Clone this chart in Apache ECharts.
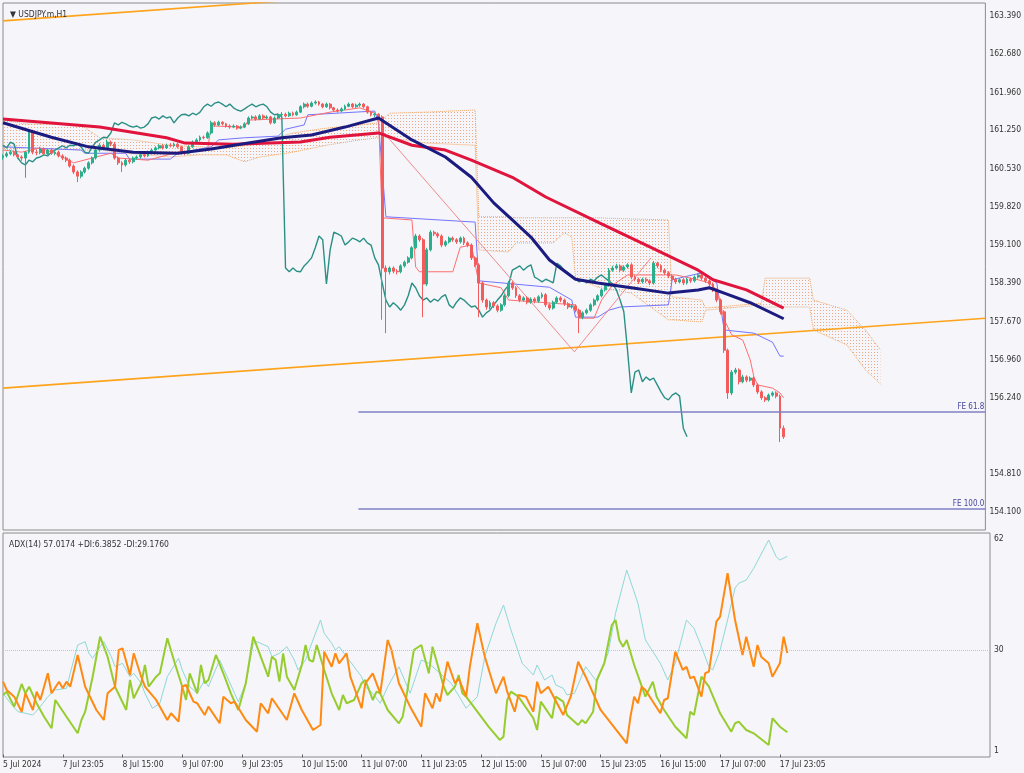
<!DOCTYPE html>
<html><head><meta charset="utf-8">
<script src="https://cdn.jsdelivr.net/npm/echarts/dist/echarts.min.js"></script>
<style>html,body{margin:0;padding:0;background:#f5f5fa}#c{width:1024px;height:773px}</style>
</head><body><div id="c"></div>
<script>
// ---------- DATA ----------
const xTickBars = [0,16,32,48,64,80,96,112,128,144,160,176,192,208];
const xLabels = ['5 Jul 2024','7 Jul 23:05','8 Jul 15:00','9 Jul 07:00','9 Jul 23:05','10 Jul 15:00','11 Jul 07:00','11 Jul 23:05','12 Jul 15:00','15 Jul 07:00','15 Jul 23:05','16 Jul 15:00','17 Jul 07:00','17 Jul 23:05'];
const priceTicks = [154.100,154.810,156.240,156.960,157.670,158.390,159.100,159.820,160.530,161.250,161.960,162.680,163.390];
const adxTicks = [1,30,62];
const lastPrice = 155.508;

// hourly candles: [open, close, low, high]
const ohlc = [
[160.74,160.77,160.70,160.80],[160.77,160.81,160.74,160.85],[160.81,160.84,160.78,160.88],[160.84,160.79,160.76,160.87],[160.79,160.75,160.71,160.81],
[160.75,160.73,160.68,160.78],[160.73,160.84,160.36,160.86],[160.84,161.22,160.81,161.25],[161.22,160.84,160.80,161.26],[160.84,160.83,160.78,160.89],
[160.83,160.90,160.80,160.94],[160.90,160.81,160.78,160.93],[160.81,160.88,160.77,160.91],[160.88,160.82,160.79,160.92],[160.82,160.84,160.78,160.88],
[160.84,160.77,160.74,160.87],[160.77,160.73,160.69,160.80],[160.73,160.69,160.65,160.76],[160.69,160.58,160.55,160.72],[160.58,160.47,160.43,160.61],
[160.47,160.39,160.28,160.50],[160.39,160.47,160.35,160.50],[160.47,160.54,160.44,160.57],[160.54,160.64,160.51,160.67],[160.64,160.73,160.61,160.76],
[160.73,160.88,160.70,160.91],[160.88,160.97,160.85,161.01],[160.97,160.92,160.89,161.00],[160.92,161.03,160.89,161.07],[161.03,160.99,160.95,161.06],
[160.99,160.73,160.70,161.03],[160.73,160.64,160.60,160.76],[160.64,160.60,160.47,160.67],[160.60,160.69,160.57,160.72],[160.69,160.66,160.62,160.73],
[160.66,160.73,160.63,160.76],[160.73,160.75,160.70,160.78],[160.75,160.79,160.72,160.82],[160.79,160.77,160.74,160.82],[160.77,160.84,160.75,160.87],
[160.84,160.88,160.81,160.91],[160.88,160.92,160.85,160.95],[160.92,160.96,160.89,160.99],[160.96,160.92,160.89,160.99],[160.92,160.97,160.90,161.00],
[160.97,160.96,160.93,161.01],[160.96,160.99,160.93,161.02],[160.99,160.94,160.91,161.02],[160.94,160.84,160.80,160.96],[160.84,160.82,160.78,160.87],
[160.82,160.94,160.80,160.97],[160.94,161.03,160.92,161.06],[161.03,161.07,161.00,161.10],[161.07,161.12,161.04,161.15],[161.12,161.11,161.08,161.15],
[161.11,161.20,161.09,161.23],[161.20,161.39,161.17,161.43],[161.39,161.35,161.32,161.42],[161.35,161.40,161.33,161.43],[161.40,161.37,161.34,161.42],
[161.37,161.33,161.30,161.39],[161.33,161.31,161.28,161.36],[161.31,161.33,161.29,161.36],[161.33,161.29,161.26,161.35],[161.29,161.31,161.27,161.34],
[161.31,161.37,161.29,161.40],[161.37,161.48,161.35,161.51],[161.48,161.50,161.45,161.53],[161.50,161.46,161.43,161.53],[161.46,161.52,161.44,161.55],
[161.52,161.48,161.45,161.55],[161.48,161.50,161.46,161.53],[161.50,161.39,161.36,161.52],[161.39,161.48,161.37,161.51],[161.48,161.54,161.46,161.57],
[161.54,161.55,161.51,161.59],[161.55,161.52,161.49,161.58],[161.52,161.57,161.50,161.60],[161.57,161.54,161.51,161.60],[161.54,161.59,161.52,161.62],
[161.59,161.69,161.57,161.72],[161.69,161.74,161.66,161.77],[161.74,161.70,161.67,161.77],[161.70,161.76,161.68,161.79],[161.76,161.78,161.73,161.81],
[161.78,161.74,161.71,161.80],[161.74,161.69,161.66,161.76],[161.69,161.74,161.67,161.77],[161.74,161.67,161.64,161.76],[161.67,161.63,161.60,161.69],
[161.63,161.61,161.58,161.66],[161.61,161.65,161.59,161.68],[161.65,161.70,161.63,161.73],[161.70,161.74,161.68,161.77],[161.74,161.69,161.66,161.76],
[161.69,161.72,161.67,161.75],[161.72,161.74,161.69,161.77],[161.74,161.69,161.66,161.76],[161.69,161.59,161.56,161.71],[161.59,161.54,161.51,161.61],
[161.54,161.55,161.50,161.58],[161.55,161.50,161.46,161.57],[161.50,158.67,157.70,161.53],[158.67,158.60,157.45,158.72],[158.60,158.67,158.55,158.70],
[158.67,158.61,158.57,158.70],[158.61,158.60,158.55,158.65],[158.60,158.71,158.57,158.74],[158.71,158.78,158.68,158.81],[158.78,158.86,158.75,158.89],
[158.86,159.05,158.83,159.08],[159.05,159.27,159.02,159.31],[159.27,159.20,159.16,159.30],[159.20,158.37,157.75,159.23],[158.37,159.01,158.33,159.05],
[159.01,159.34,158.98,159.38],[159.34,159.31,159.27,159.37],[159.31,159.27,159.23,159.34],[159.27,159.10,159.06,159.30],[159.10,159.16,159.07,159.19],
[159.16,159.23,159.13,159.26],[159.23,159.20,159.16,159.26],[159.20,159.16,159.12,159.23],[159.16,159.23,159.13,159.26],[159.23,159.14,159.10,159.26],
[159.14,159.10,159.06,159.17],[159.10,158.86,158.82,159.13],[158.86,158.73,158.69,158.89],[158.73,158.39,157.75,158.76],[158.39,158.07,158.02,158.42],
[158.07,157.94,157.89,158.10],[157.94,158.02,157.90,158.06],[158.02,157.96,157.92,158.05],[157.96,157.88,157.84,157.99],[157.88,157.98,157.85,158.01],
[157.98,158.15,157.95,158.18],[158.15,158.39,158.12,158.43],[158.39,158.30,158.26,158.42],[158.30,158.15,158.11,158.33],[158.15,158.07,158.03,158.18],
[158.07,158.11,158.04,158.14],[158.11,158.03,157.99,158.14],[158.03,158.09,158.00,158.12],[158.09,158.05,158.01,158.12],[158.05,158.13,158.02,158.16],
[158.13,158.17,158.10,158.21],[158.17,157.98,157.94,158.20],[157.98,157.92,157.88,158.01],[157.92,158.03,157.89,158.06],[158.03,158.11,158.00,158.14],
[158.11,158.07,158.03,158.14],[158.07,158.00,157.96,158.10],[158.00,157.94,157.90,158.03],[157.94,157.96,157.91,157.99],[157.96,157.88,157.84,157.99],
[157.88,157.75,157.45,157.91],[157.75,157.83,157.71,157.86],[157.83,157.88,157.80,157.91],[157.88,157.98,157.85,158.01],[157.98,158.07,157.95,158.10],
[158.07,158.15,158.04,158.18],[158.15,158.26,158.12,158.29],[158.26,158.35,158.23,158.38],[158.35,158.63,158.32,158.67],[158.63,158.67,158.60,158.71],
[158.67,158.71,158.64,158.75],[158.71,158.63,158.59,158.74],[158.63,158.69,158.60,158.72],[158.69,158.73,158.66,158.76],[158.73,158.50,158.46,158.76],
[158.50,158.46,158.42,158.53],[158.46,158.41,158.37,158.49],[158.41,158.46,158.38,158.49],[158.46,158.43,158.39,158.49],[158.43,158.39,158.35,158.46],
[158.39,158.76,158.36,158.80],[158.76,158.71,158.67,158.79],[158.71,158.63,158.59,158.74],[158.63,158.58,158.54,158.66],[158.58,158.52,158.48,158.61],
[158.52,158.46,158.42,158.55],[158.46,158.41,158.37,158.49],[158.41,158.45,158.38,158.48],[158.45,158.39,158.35,158.48],[158.39,158.46,158.36,158.49],
[158.46,158.43,158.39,158.49],[158.43,158.50,158.40,158.53],[158.50,158.54,158.47,158.57],[158.54,158.48,158.44,158.57],[158.48,158.43,158.39,158.51],
[158.43,158.37,158.33,158.46],[158.37,158.26,158.22,158.40],[158.26,158.07,158.03,158.29],[158.07,157.85,157.80,158.10],[157.85,157.13,157.08,157.88],
[157.13,156.33,156.22,157.16],[156.33,156.72,156.29,156.76],[156.72,156.76,156.68,156.80],[156.76,156.54,156.49,156.79],[156.54,156.63,156.51,156.67],
[156.63,156.57,156.53,156.66],[156.57,156.61,156.54,156.64],[156.61,156.48,156.44,156.64],[156.48,156.35,156.31,156.51],[156.35,156.24,156.20,156.38],
[156.24,156.20,156.16,156.27],[156.20,156.29,156.17,156.32],[156.29,156.33,156.26,156.36],[156.33,156.27,156.23,156.36],[156.27,155.67,155.41,156.30],
[155.67,155.508,155.47,155.72]
];

// Ichimoku lines (vertices: [bar, price])
const tenkanPts = [[0,160.88],[5,160.84],[10,160.92],[14,160.82],[19,160.64],[24,160.73],[29,160.82],[31,160.73],[39,160.69],[47,160.84],[55,160.88],[56,161.33],[65,161.31],[66,161.44],[80,161.48],[88,161.59],[96,161.67],[100,161.57],[101,161.52],[102,159.61],[110,159.57],[111,158.69],[112,158.60],[121,158.60],[123,159.06],[126,159.10],[128,158.39],[134,158.30],[136,158.07],[154,157.98],[155,157.73],[159,157.73],[161,158.07],[164,158.35],[168,158.54],[181,158.54],[187,158.45],[190,158.39],[192,158.26],[194,157.70],[196,157.42],[199,157.32],[201,156.95],[202,156.63],[203,156.48],[207,156.42],[209,156.33],[210,156.24]];
const kijunPts = [[0,160.94],[21,160.88],[22,160.82],[33,160.82],[34,160.71],[45,160.71],[47,160.82],[56,160.94],[58,161.07],[65,161.11],[74,161.14],[76,161.27],[81,161.35],[82,161.54],[100,161.61],[101,161.39],[103,159.63],[127,159.53],[128,158.43],[147,158.31],[153,158.07],[154,157.75],[160,157.75],[163,157.88],[166,157.94],[179,157.98],[180,158.45],[183,158.50],[188,158.58],[192,158.39],[194,157.51],[202,157.45],[207,157.28],[209,157.02],[210,157.02]];
const cloudBars  = [0,6,21,26,35,45,53,60,65,69,78,87,96,101,104,114,127,128,136,138,148,151,153,154,160,169,179,180,188,189,204,205,217,218,227,232,236];
const cloudUpper = [161.44,161.37,161.35,161.11,161.07,160.97,160.94,160.92,160.96,161.03,161.20,161.29,161.35,161.39,161.57,161.59,161.63,159.63,159.63,159.61,159.61,159.61,159.61,159.61,159.61,159.59,159.57,158.13,158.07,157.92,158.01,158.48,158.48,158.07,157.88,157.51,157.14];
const cloudLower = [160.88,160.92,160.88,160.88,160.81,160.75,160.79,160.79,160.66,160.75,160.84,160.97,161.07,161.11,161.11,161.01,160.97,159.01,158.97,159.14,159.14,159.33,159.25,158.50,158.31,158.20,157.70,157.70,157.66,157.88,157.98,157.94,157.94,157.51,157.23,156.76,156.50];

// moving averages (vertices)
const maNavyPts = [[0,161.39],[13,161.12],[23,160.94],[35,160.84],[47,160.82],[56,160.90],[66,161.01],[75,161.11],[83,161.16],[92,161.31],[101,161.48],[110,161.07],[119,160.75],[126,160.37],[132,159.89],[137,159.57],[142,159.25],[147,158.82],[154,158.46],[160,158.39],[169,158.30],[179,158.20],[187,158.26],[190,158.30],[194,158.20],[201,158.02],[210,157.72]];
const maRedPts = [[0,161.46],[26,161.31],[44,161.11],[49,161.01],[62,160.99],[80,161.03],[88,161.12],[101,161.20],[110,160.97],[119,160.88],[126,160.69],[137,160.37],[146,160.00],[160,159.53],[173,159.10],[187,158.63],[191,158.45],[200,158.26],[210,157.92]];

// drawn objects
const trendLow  = [[0,156.42],[264.26,157.73]];
const trendHigh = [[0,163.30],[264.26,164.61]];
const fibPts = [[102.5,161.20],[153.7,157.10],[174.3,158.86]];
const feStartBar = 95.6;
const feNames  = ['FE 61.8','FE 100.0'];
const feLevels = [155.97, 154.16];

// ADX(14)
const adxPts = [[0,17.60],[2,14.73],[4,12.31],[6,11.85],[8,11.36],[10,13.75],[12,16.63],[14,18.55],[17,19.04],[18,23.36],[20,31.50],[22,32.45],[23,29.11],[24,27.68],[26,31.01],[27,32.45],[29,28.14],[30,25.26],[32,26.24],[34,22.38],[35,23.36],[37,20.48],[38,17.60],[40,13.29],[42,14.73],[44,22.38],[47,27.68],[48,24.31],[50,19.50],[52,17.60],[54,21.43],[55,19.50],[58,27.19],[60,22.38],[62,17.60],[63,15.19],[65,20.48],[67,31.99],[68,32.45],[71,31.01],[72,28.14],[74,29.11],[76,31.01],[78,27.19],[79,24.31],[81,27.19],[83,32.94],[85,38.70],[86,34.87],[88,31.99],[89,30.06],[90,31.01],[92,28.14],[94,25.26],[96,22.38],[97,19.50],[99,17.60],[101,14.73],[103,19.50],[106,25.26],[109,17.60],[112,27.19],[114,26.24],[117,23.36],[120,20.48],[124,13.29],[127,16.63],[129,28.14],[132,37.75],[134,43.01],[136,35.82],[139,26.24],[142,22.87],[143,25.75],[145,21.43],[147,22.87],[148,19.99],[150,19.04],[151,17.12],[153,17.60],[156,25.26],[159,20.94],[162,29.11],[164,40.63],[167,53.09],[170,43.50],[172,32.94],[176,26.24],[178,21.43],[180,26.24],[183,38.70],[185,36.31],[187,31.01],[189,25.26],[190,24.31],[192,30.06],[194,38.70],[196,47.90],[197,49.26],[199,50.21],[201,53.58],[205,61.72],[207,56.91],[208,55.96],[210,57.02]];
const plusDiPts = [[0,17.12],[1,18.06],[3,13.75],[5,20.28],[6,17.60],[7,19.50],[9,14.73],[11,10.87],[13,7.53],[14,15.68],[17,10.87],[20,6.09],[21,9.92],[22,12.31],[24,22.38],[26,33.89],[28,28.14],[30,19.50],[33,12.80],[34,21.43],[35,16.17],[37,20.48],[38,25.75],[39,19.50],[41,22.38],[42,23.36],[44,33.43],[46,26.24],[48,19.50],[49,15.68],[50,23.36],[52,17.60],[53,25.75],[54,20.48],[55,21.43],[57,28.63],[59,23.36],[61,17.60],[63,12.80],[65,20.48],[67,33.89],[69,28.14],[71,22.38],[72,28.14],[73,27.19],[74,20.94],[75,29.11],[76,22.38],[78,18.55],[80,25.75],[81,31.50],[82,27.19],[83,26.70],[84,31.50],[86,24.31],[88,17.60],[90,12.80],[91,17.12],[92,14.73],[94,15.68],[96,20.48],[97,21.43],[99,15.68],[100,18.06],[101,17.60],[103,12.80],[106,8.97],[107,10.87],[108,16.63],[110,30.06],[112,31.50],[114,23.36],[115,31.01],[118,19.50],[119,17.12],[121,19.50],[122,22.87],[123,17.60],[124,16.63],[127,12.31],[130,7.99],[133,4.17],[134,5.12],[135,15.68],[136,18.06],[138,16.63],[142,10.41],[143,7.04],[144,15.19],[147,10.41],[148,16.63],[150,15.19],[151,11.36],[154,8.48],[155,9.92],[156,8.97],[158,12.31],[159,21.43],[161,26.24],[163,37.26],[164,38.70],[165,32.94],[166,31.01],[167,32.94],[169,25.75],[172,16.63],[174,20.94],[175,16.63],[177,12.80],[180,7.99],[183,4.65],[184,12.31],[185,11.36],[187,22.38],[189,19.50],[192,11.85],[195,6.55],[196,8.97],[197,9.43],[199,7.04],[201,6.09],[205,2.73],[206,10.41],[208,7.99],[210,6.39]];
const minusDiPts = [[0,20.94],[1,18.55],[3,16.63],[5,12.31],[6,17.60],[8,12.80],[9,18.06],[10,15.68],[12,23.36],[13,17.60],[15,20.94],[16,19.04],[17,20.94],[18,19.50],[20,28.63],[22,19.50],[25,12.80],[27,9.92],[28,17.60],[30,19.50],[31,30.06],[32,30.55],[34,22.87],[35,29.11],[37,22.38],[38,19.50],[41,15.68],[44,9.92],[45,11.85],[47,9.43],[48,19.50],[49,19.99],[51,15.19],[52,14.73],[54,11.36],[55,13.75],[58,8.97],[59,16.63],[61,14.73],[62,15.19],[65,9.92],[68,6.55],[69,14.73],[71,11.85],[72,16.17],[76,9.92],[78,17.60],[80,12.80],[83,7.04],[85,8.48],[86,29.58],[88,25.26],[89,29.11],[90,26.24],[92,29.11],[93,22.38],[96,13.29],[97,20.48],[99,23.36],[101,17.60],[103,32.94],[104,30.06],[106,20.48],[109,13.75],[112,7.99],[113,17.60],[115,13.29],[116,17.60],[117,15.19],[119,26.70],[121,20.48],[122,21.92],[124,16.63],[125,25.26],[127,37.75],[129,28.14],[132,17.60],[134,22.38],[135,18.06],[137,12.31],[138,17.12],[140,16.63],[142,12.31],[143,20.94],[144,17.60],[146,19.50],[150,11.36],[152,16.63],[154,26.70],[156,22.38],[160,12.80],[167,3.22],[168,10.87],[169,16.63],[170,14.73],[171,19.50],[172,18.55],[176,11.85],[177,15.68],[178,16.17],[180,29.58],[182,24.31],[183,25.26],[184,21.92],[185,22.38],[187,16.63],[188,23.36],[189,23.82],[191,38.21],[192,39.65],[194,52.14],[196,38.70],[198,28.63],[199,33.89],[201,25.26],[202,31.50],[203,28.14],[205,26.24],[206,22.38],[208,26.24],[209,33.89],[210,29.18]];

// ---------- CHART ----------
const BG = '#f5f5fa';
const FONT = '"Liberation Sans Narrow","DejaVu Sans Condensed","Liberation Sans",sans-serif';
const X_MAX = 264.26;

function dotPattern() {
  const c = document.createElement('canvas'); c.width = 3; c.height = 3;
  const g = c.getContext('2d');
  g.fillStyle = 'rgba(236,150,105,0.8)'; g.fillRect(1, 1, 1, 1);
  return c;
}
const cloudFill = { image: dotPattern(), repeat: 'repeat' };

const candleData = ohlc.map((r, i) => [i, r[0], r[1], r[2], r[3]]);
const chikouData = ohlc.slice(26).map((r, i) => [i, r[1]]);
const cloudUpData = cloudBars.map((b, i) => [b, cloudUpper[i]]);
const cloudLoData = cloudBars.map((b, i) => [b, cloudLower[i]]);

function line(data, color, width, extra) {
  return Object.assign({
    type: 'line', data: data, symbol: 'none', silent: true, animation: false,
    lineStyle: { color: color, width: width }, xAxisIndex: 0, yAxisIndex: 0, z: 3
  }, extra || {});
}

const feMarks = feLevels.map((lv, i) => [
  { coord: [feStartBar, lv], label: { formatter: feNames[i] } },
  { coord: [X_MAX, lv] }
]);

const option = {
  backgroundColor: BG,
  animation: false,
  title: [
    { text: '▼ USDJPY.m,H1', left: 5, top: 5, textStyle: { fontSize: 8.5, fontWeight: 'normal', color: '#333', fontFamily: FONT } },
    { text: 'ADX(14) 57.0174 +DI:6.3852 -DI:29.1760', left: 4, top: 535, textStyle: { fontSize: 8.5, fontWeight: 'normal', color: '#333', fontFamily: FONT } }
  ],
  grid: [
    { left: 3, right: 34, top: 3, height: 527, show: true, borderColor: '#8c8c8c', borderWidth: 1 },
    { left: 3, right: 34, top: 533, height: 224, show: true, borderColor: '#8c8c8c', borderWidth: 1 }
  ],
  xAxis: [
    { gridIndex: 0, type: 'value', min: 0, max: X_MAX, show: false },
    { gridIndex: 1, type: 'value', min: 0, max: X_MAX,
      axisLine: { show: false }, splitLine: { show: false },
      axisTick: { show: true, customValues: xTickBars, length: 3, lineStyle: { color: '#666' } },
      axisLabel: { customValues: xTickBars, formatter: v => xLabels[xTickBars.indexOf(v)] || '', align: 'left', margin: 3,
                   fontSize: 8.5, color: '#333', fontFamily: FONT } }
  ],
  yAxis: [
    { gridIndex: 0, type: 'value', position: 'right', min: 153.763, max: 163.634,
      splitLine: { show: false }, axisLine: { show: false }, axisTick: { show: false },
      axisLabel: { customValues: priceTicks, formatter: v => v.toFixed(3), margin: 4, fontSize: 8.5, color: '#333', fontFamily: FONT } },
    { gridIndex: 1, type: 'value', position: 'right', min: -0.73, max: 63.73,
      splitLine: { show: false }, axisLine: { show: false }, axisTick: { show: false },
      axisLabel: { customValues: adxTicks, margin: 4, fontSize: 8.5, color: '#333', fontFamily: FONT } }
  ],
  series: [
    // Kumo: dotted polygon between the two spans
    { type: 'custom', xAxisIndex: 0, yAxisIndex: 0, silent: true, z: 1, clip: true,
      data: [[cloudBars[0], cloudUpper[0]]],
      renderItem: function (params, api) {
        const pts = [];
        for (let i = 0; i < cloudBars.length; i++) pts.push(api.coord([cloudBars[i], cloudUpper[i]]));
        for (let i = cloudBars.length - 1; i >= 0; i--) pts.push(api.coord([cloudBars[i], cloudLower[i]]));
        return { type: 'polygon', shape: { points: pts }, style: { fill: cloudFill, stroke: null } };
      } },
    line(cloudUpData, '#f0a868', 1, { z: 2, lineStyle: { color: '#f0a868', width: 1, type: 'dotted' } }),
    line(cloudLoData, '#f0a868', 1, { z: 2, lineStyle: { color: '#f0a868', width: 1, type: 'dotted' } }),
    // orange channel lines + Fibonacci expansion levels
    line(trendLow, '#ffa31a', 1.6, { markLine: {
      silent: true, symbol: ['none', 'none'], animation: false,
      lineStyle: { color: '#7f7fc4', width: 1.5, type: 'solid' },
      label: { position: 'insideEndTop', color: '#4646a0', fontSize: 8, fontFamily: FONT, distance: 1 },
      data: feMarks } }),
    line(trendHigh, '#ffa31a', 1.6),
    // Ichimoku
    line(kijunPts, '#7474ff', 1),
    line(tenkanPts, '#ff6f6f', 1),
    line(chikouData, '#2a8f85', 1.4),
    line(fibPts, '#f28a8a', 1),
    // candles
    { type: 'candlestick', xAxisIndex: 0, yAxisIndex: 0, data: candleData, barWidth: 2.4, z: 4, silent: true,
      itemStyle: { color: '#2aae8c', color0: '#f25c5c', borderColor: '#2aae8c', borderColor0: '#f25c5c', borderWidth: 1 },
      markLine: { silent: true, symbol: ['none', 'none'], animation: false,
        lineStyle: { opacity: 0 },
        label: { position: 'end', distance: 1, formatter: lastPrice.toFixed(3), color: '#ffffff', backgroundColor: '#161c2c',
                 padding: [2, 3, 1, 3], fontSize: 8.5, fontFamily: FONT },
        data: [{ yAxis: lastPrice }] } },
    // moving averages
    line(maRedPts, '#e0143c', 3, { z: 5 }),
    line(maNavyPts, '#1c1c80', 3, { z: 5 }),
    // ADX panel
    line(adxPts, '#8fd8d8', 1, { xAxisIndex: 1, yAxisIndex: 1,
      markLine: { silent: true, symbol: ['none', 'none'], animation: false, label: { show: false },
        lineStyle: { color: '#c4c4c4', type: 'dotted', width: 1 }, data: [{ yAxis: 30 }] } }),
    line(plusDiPts, '#96cc2e', 2, { xAxisIndex: 1, yAxisIndex: 1 }),
    line(minusDiPts, '#ff8a12', 2, { xAxisIndex: 1, yAxisIndex: 1 })
  ]
};

const chart = echarts.init(document.getElementById('c'), null, { renderer: 'canvas' });
chart.setOption(option);
</script></body></html>
